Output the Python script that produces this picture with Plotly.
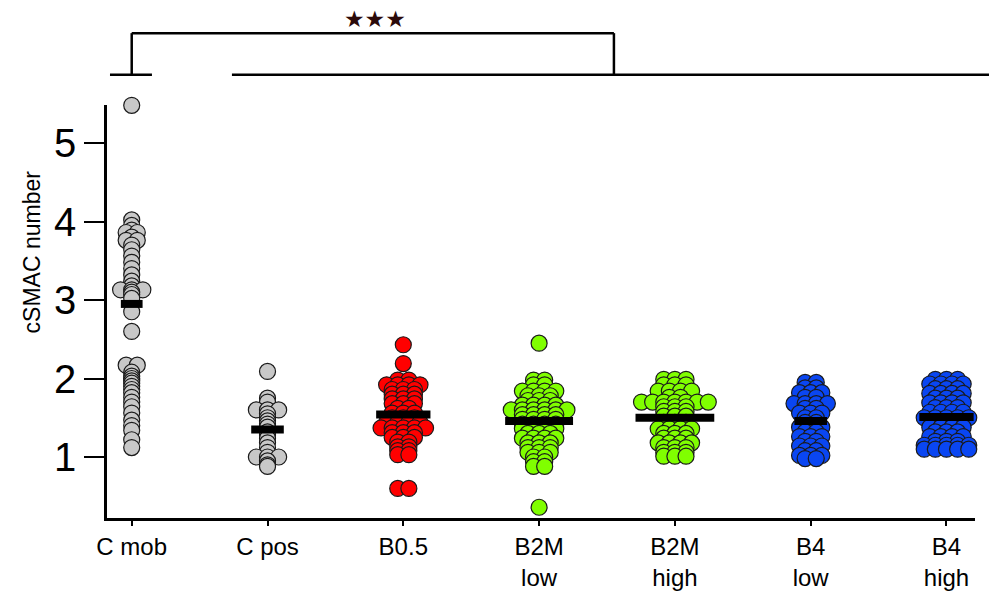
import plotly.graph_objects as go
from collections import Counter

# Group labels along the x axis
categories = ["C mob", "C pos", "B0.5", "B2M<br>low", "B2M<br>high", "B4<br>low", "B4<br>high"]

# cSMAC number per cell, one list per condition
c_mob = [5.48, 4.02, 3.95, 3.89, 3.86, 3.86, 3.80, 3.76, 3.76, 3.70, 3.64, 3.56, 3.48,
         3.40, 3.32, 3.24, 3.18, 3.13, 3.13, 3.13, 3.10, 3.07, 3.02, 2.85, 2.60, 2.17,
         2.17, 2.08, 2.03, 2.00, 1.97, 1.94, 1.90, 1.86, 1.82, 1.76, 1.70, 1.64, 1.56,
         1.47, 1.40, 1.34, 1.22, 1.12]
c_pos = [2.09, 1.75, 1.70, 1.60, 1.60, 1.60, 1.55, 1.50, 1.46, 1.42, 1.38, 1.32, 1.28,
         1.24, 1.18, 1.12, 1.06, 1.00, 1.00, 1.00, 0.95, 0.90, 0.88]
b05 = [2.43, 2.19, 1.98, 1.98, 1.92, 1.92, 1.92, 1.92, 1.86, 1.86, 1.86, 1.80, 1.80,
       1.80, 1.74, 1.74, 1.74, 1.68, 1.68, 1.68, 1.62, 1.62, 1.56, 1.56, 1.56, 1.50,
       1.50, 1.50, 1.44, 1.44, 1.44, 1.44, 1.37, 1.37, 1.37, 1.37, 1.37, 1.31, 1.31,
       1.31, 1.25, 1.25, 1.25, 1.19, 1.19, 1.13, 1.13, 1.08, 1.08, 1.03, 1.03, 0.60, 0.60]
b2m_low = [2.45, 1.98, 1.98, 1.92, 1.92, 1.84, 1.84, 1.84, 1.84, 1.78, 1.78, 1.78,
           1.72, 1.72, 1.72, 1.66, 1.66, 1.66, 1.66, 1.60, 1.60, 1.60, 1.60, 1.60, 1.60,
           1.54, 1.54, 1.54, 1.54, 1.48, 1.48, 1.48, 1.48, 1.42, 1.42, 1.42, 1.42, 1.36,
           1.36, 1.36, 1.36, 1.30, 1.30, 1.30, 1.24, 1.24, 1.24, 1.24, 1.18, 1.18, 1.18,
           1.12, 1.12, 1.12, 1.06, 1.06, 1.06, 1.00, 1.00, 0.94, 0.94, 0.88, 0.88, 0.36]
b2m_high = [1.99, 1.99, 1.99, 1.92, 1.92, 1.92, 1.84, 1.84, 1.84, 1.84, 1.76,
            1.76, 1.70, 1.70, 1.70, 1.70, 1.70, 1.70, 1.70, 1.64, 1.64, 1.64,
            1.58, 1.58, 1.58, 1.52, 1.52, 1.52, 1.44, 1.44, 1.44, 1.36, 1.36, 1.36,
            1.36, 1.30, 1.30, 1.30, 1.24, 1.24, 1.24, 1.18, 1.18, 1.18, 1.18, 1.12,
            1.12, 1.12, 1.06, 1.06, 1.06, 1.01, 1.01, 1.01]
b4_low = [1.95, 1.95, 1.88, 1.88, 1.82, 1.82, 1.82, 1.76, 1.76, 1.68, 1.68, 1.68, 1.68,
          1.62, 1.62, 1.56, 1.56, 1.56, 1.50, 1.50, 1.44, 1.44, 1.38, 1.38, 1.38, 1.32,
          1.32, 1.26, 1.26, 1.26, 1.20, 1.20, 1.14, 1.14, 1.14, 1.08, 1.08, 1.02, 1.02,
          1.02, 0.98, 0.98]
b4_high = [1.99, 1.99, 1.99, 1.93, 1.93, 1.93, 1.93, 1.87, 1.87, 1.87, 1.81,
           1.81, 1.81, 1.81, 1.75, 1.75, 1.75, 1.69, 1.69, 1.69, 1.69, 1.63,
           1.63, 1.63, 1.57, 1.57, 1.57, 1.57, 1.50, 1.50, 1.50, 1.50, 1.50,
           1.44, 1.44, 1.44, 1.38, 1.38, 1.38, 1.38, 1.32, 1.32, 1.32,
           1.26, 1.26, 1.26, 1.26, 1.20, 1.20, 1.20, 1.15, 1.15, 1.15, 1.15,
           1.15, 1.10, 1.10, 1.10, 1.10, 1.10]

groups = [c_mob, c_pos, b05, b2m_low, b2m_high, b4_low, b4_high]

# Group means and the half-width of each mean bar (x units)
means = [2.95, 1.35, 1.54, 1.46, 1.50, 1.46, 1.51]
mean_half_width = [0.08, 0.12, 0.20, 0.25, 0.29, 0.12, 0.20]

colors = ["#c8c8c8", "#c8c8c8", "#ff0000", "#80ff00", "#80ff00", "#0a46f2", "#0a46f2"]

X_RANGE = [-0.182, 6.21]
Y_RANGE = [0.223, 5.484]
STEP = 0.082  # horizontal spacing between points sharing a value


def swarm_offsets(values, step):
    """Spread points with identical values side by side, centred on the group."""
    counts = Counter(values)
    seen = Counter()
    offs = []
    for v in values:
        n, k = counts[v], seen[v]
        seen[v] += 1
        offs.append((k - (n - 1) / 2) * step)
    return offs


def to_paper_x(x):
    return (x - X_RANGE[0]) / (X_RANGE[1] - X_RANGE[0])


fig = go.Figure()

for i, (vals, col) in enumerate(zip(groups, colors)):
    offs = swarm_offsets(vals, STEP)
    fig.add_trace(go.Scatter(
        x=[i + o for o in offs], y=vals, mode="markers",
        marker=dict(size=16, color=col, line=dict(color="#1a1a1a", width=1.2)),
        cliponaxis=False, showlegend=False, hoverinfo="y",
    ))

for i, (m, hw) in enumerate(zip(means, mean_half_width)):
    fig.add_trace(go.Scatter(
        x=[i - hw, i + hw], y=[m, m], mode="lines",
        line=dict(color="black", width=8), showlegend=False, hoverinfo="skip",
    ))

# Significance bracket above the plot
line_style = dict(color="black", width=2.5)
base_y, top_y = 1.073, 1.174
bracket = [
    (-0.160, base_y, 0.149, base_y),
    (0.738, base_y, 6.313, base_y),
    (0.0, base_y, 0.0, top_y),
    (0.0, top_y, 3.551, top_y),
    (3.551, top_y, 3.551, base_y),
]
for x0, y0, x1, y1 in bracket:
    fig.add_shape(type="line", xref="paper", yref="paper",
                  x0=to_paper_x(x0), y0=y0, x1=to_paper_x(x1), y1=y1, line=line_style)

fig.add_annotation(text="★★★", xref="paper", yref="paper", x=to_paper_x(1.791), y=1.208,
                   xanchor="center", yanchor="middle", showarrow=False,
                   font=dict(size=23, color="#2b0a0a", family="DejaVu Sans"))

fig.add_annotation(text="cSMAC number", xref="paper", yref="paper",
                   x=-75 / 868, y=0.643, textangle=-90, showarrow=False,
                   xanchor="center", yanchor="middle",
                   font=dict(size=23, color="black", family="Liberation Sans, Arial"))

fig.update_layout(
    width=989, height=594,
    margin=dict(l=107, r=14, t=105, b=76, autoexpand=False),
    plot_bgcolor="white", paper_bgcolor="white",
    font=dict(family="Liberation Sans, Arial", color="black"),
    xaxis=dict(range=X_RANGE, tickvals=list(range(len(categories))), ticktext=categories,
               showline=True, linecolor="black", linewidth=2.5, ticks="outside",
               ticklen=5, tickwidth=2, tickcolor="black", showgrid=False, zeroline=False,
               tickfont=dict(size=24), automargin=False),
    yaxis=dict(range=Y_RANGE, tickvals=[1, 2, 3, 4, 5], showline=True, linecolor="black",
               linewidth=2.5, ticks="outside", ticklen=20, tickwidth=2, tickcolor="black",
               showgrid=False, zeroline=False, tickfont=dict(size=40), automargin=False),
)

fig.write_html("out.html")
